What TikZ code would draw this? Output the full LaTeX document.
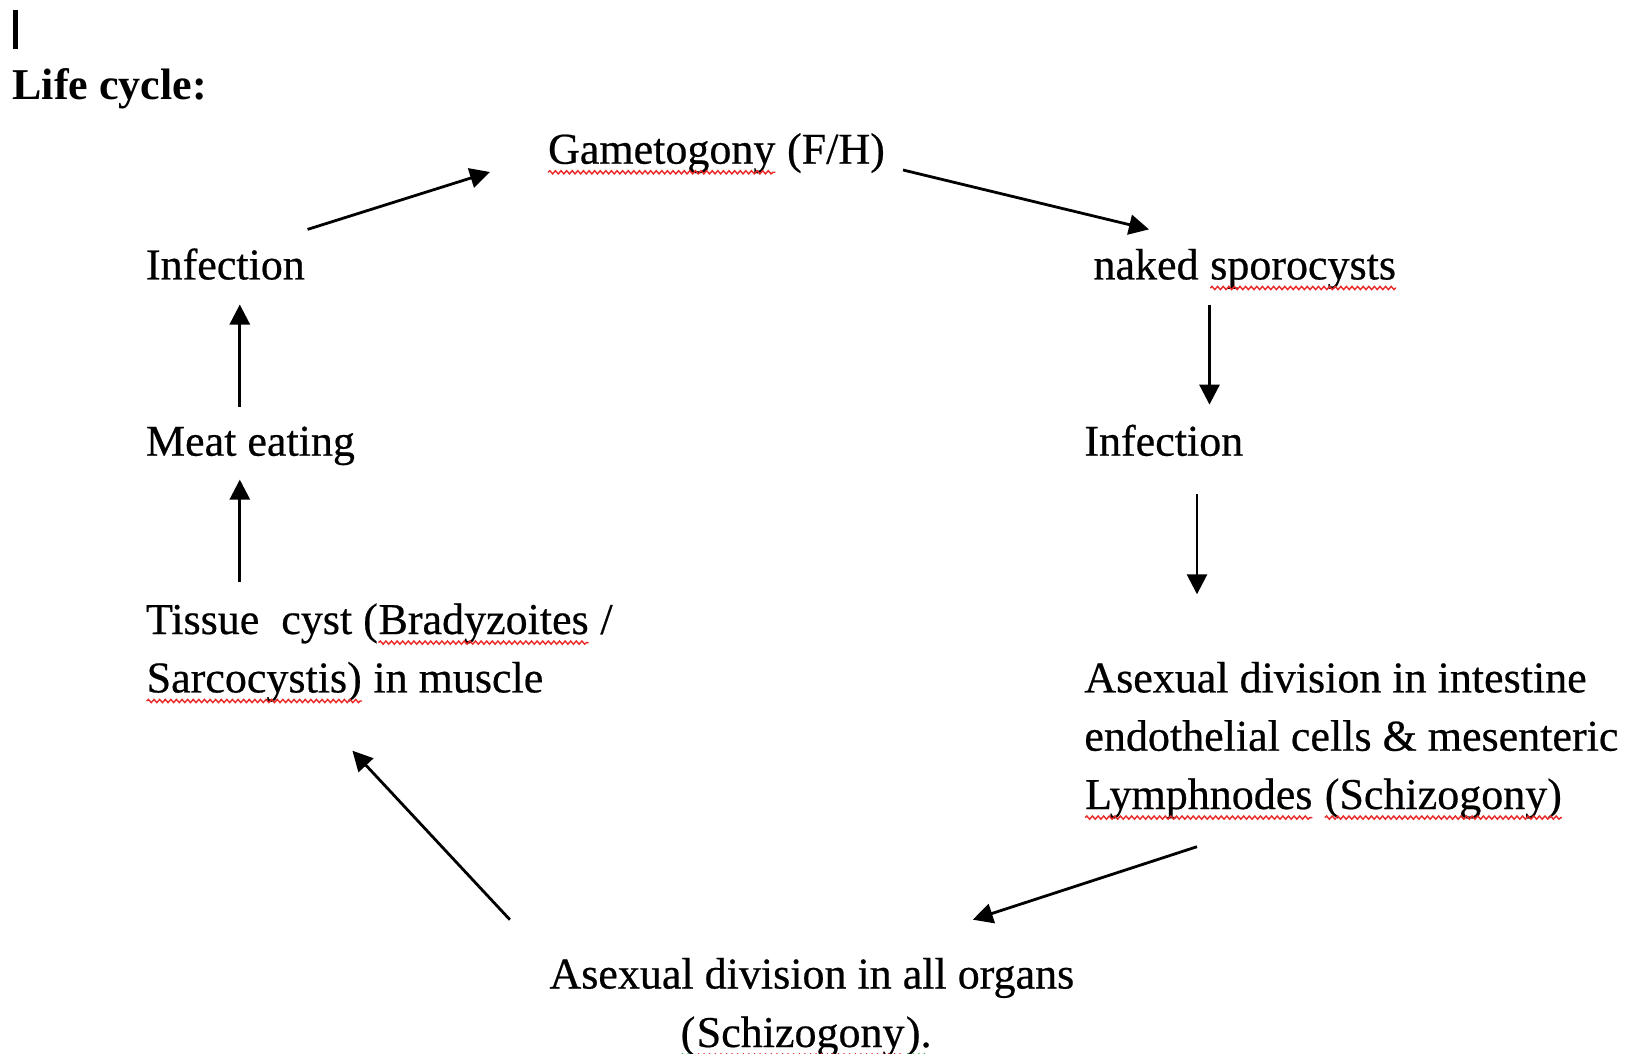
\documentclass[tikz,border=0pt]{standalone}
\usepackage{fontspec}
\setmainfont{Liberation Serif}[UprightFeatures={FakeBold=0.5}]
\usetikzlibrary{arrows.meta,decorations.pathmorphing}
\definecolor{spell}{RGB}{235,40,40}
\definecolor{gram}{RGB}{40,170,60}
\newcommand\wavy[3][spell]{%
  \tikz[baseline=0pt,x=1pt,y=1pt]{%
    \node[inner sep=0pt,outer sep=0pt,anchor=base west] (#2) at (0,0) {#3};
    \draw[#1,line width=0.7pt,decorate,decoration={snake,segment length=2.8pt,amplitude=0.8pt}]
      ([yshift=-4.3pt]#2.base west) -- ([yshift=-4.3pt]#2.base east);}}
\begin{document}
\begin{tikzpicture}[x=0.5pt,y=-0.5pt,
  txt/.style={inner sep=0pt,outer sep=0pt,anchor=base west,font=\fontsize{22pt}{29pt}\selectfont},
  arr/.style={-{Triangle[length=10pt,width=10pt]},line width=1.4pt}]
\fill[white] (0,0) rectangle (1635,1054);
\useasboundingbox (0,0) rectangle (1635,1054);
% cursor bar
\fill[black] (12.5,10.4) rectangle (17.5,49);
% texts
\node[txt] (title) at (12.5,100) {\textbf{Life cycle:}};
\node[txt] (gam) at (547.4,163.7) {\wavy{wgam}{Gametogony} (F/H)};
\node[txt] (infL) at (146,279.4) {Infection};
\node[txt] (naked) at (1093.5,279.4) {naked \wavy{wspo}{sporocysts}};
\node[txt] (meat) at (146,455.7) {Meat eating};
\node[txt] (infR) at (1084.4,455.7) {Infection};
\node[txt] (tc1) at (146,634) {Tissue\ \ cyst (\wavy{wbra}{Bradyzoites} /};
\node[txt] (tc2) at (146,692.4) {\wavy{wsar}{Sarcocystis)} in muscle};
\node[txt] (ai1) at (1084.4,692.4) {Asexual division in intestine};
\node[txt] (ai2) at (1084.4,750.7) {endothelial cells \& mesenteric};
\node[txt] (ai3) at (1084.4,809) {\wavy{wlym}{Lymphnodes} \wavy{wsch}{(Schizogony)}};
\node[txt] (ao1) at (549.5,988.5) {Asexual division in all organs};
\node[txt] (ao2) at (680,1047) {\wavy[gram]{wop}{(}\wavy{wsch2}{Schizogony}\wavy[gram]{wcl}{).}};
% arrow end points
\coordinate (a1s) at (307.6,229.4); \coordinate (a1e) at (490,172);
\coordinate (a2s) at (903,170);     \coordinate (a2e) at (1149,229.4);
\coordinate (a3s) at (239.8,406.7); \coordinate (a3e) at (239.8,304.5);
\coordinate (a4s) at (1209.5,304.5);\coordinate (a4e) at (1209.5,404.6);
\coordinate (a5s) at (239.8,581.8); \coordinate (a5e) at (239.8,479.6);
\coordinate (a6s) at (1197,494.2);  \coordinate (a6e) at (1197,594.3);
\coordinate (a7s) at (1197,846.7);  \coordinate (a7e) at (972.8,919.7);
\coordinate (a8s) at (509.9,919.7); \coordinate (a8e) at (352.4,750.7);
\draw[arr] (a1s) -- (a1e);
\draw[arr] (a2s) -- (a2e);
\draw[arr] (a3s) -- (a3e);
\draw[arr] (a4s) -- (a4e);
\draw[arr] (a5s) -- (a5e);
\draw[arr] (a6s) -- (a6e);
\draw[arr] (a7s) -- (a7e);
\draw[arr] (a8s) -- (a8e);
\end{tikzpicture}
\end{document}
